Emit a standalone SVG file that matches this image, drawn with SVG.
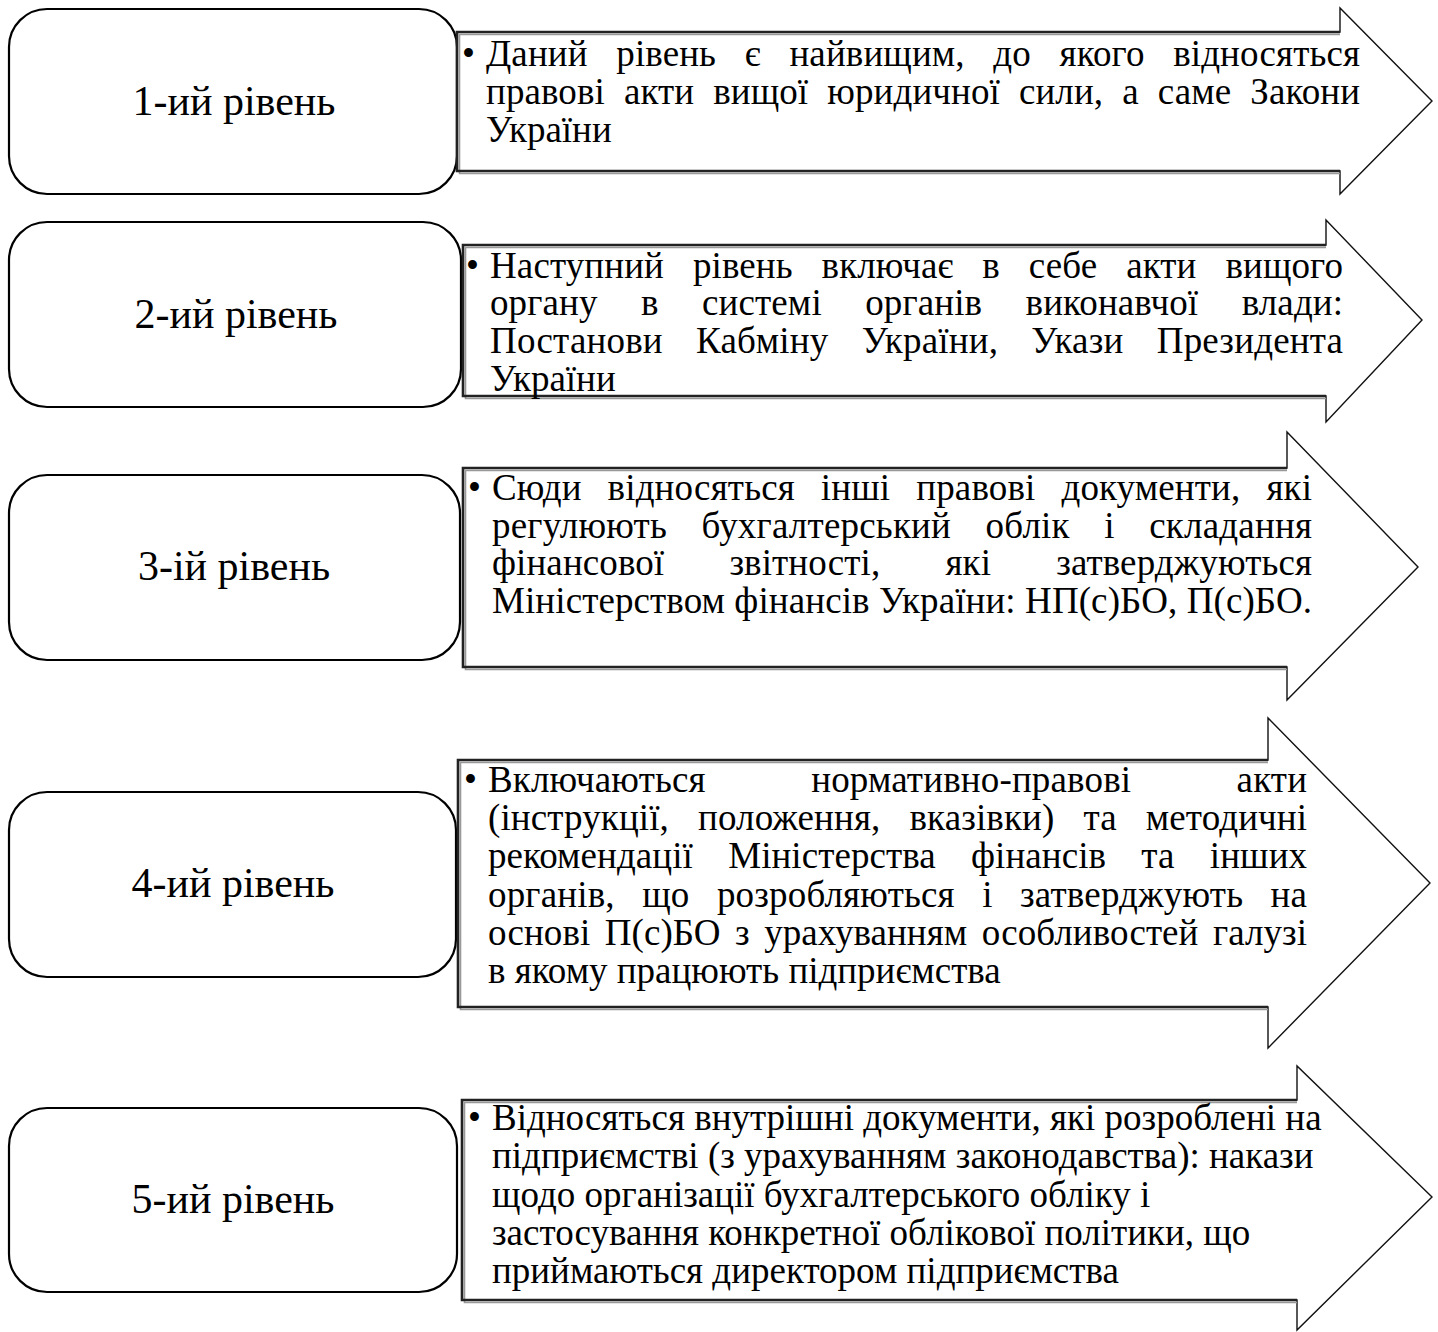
<svg xmlns="http://www.w3.org/2000/svg" width="1438" height="1332" viewBox="0 0 1438 1332">
<style>
.box{fill:#fff;stroke:#000;stroke-width:2.2}
.arr{fill:#fff;stroke:#111;stroke-width:1.4;stroke-linejoin:miter}
.sh{fill:none;stroke:#222;stroke-width:2.6}
.shd{fill:none;stroke:#999;stroke-width:1.6}
.lvl{font-family:"Liberation Serif","Times New Roman",serif;font-size:42px;fill:#000;text-anchor:middle}
.t{font-family:"Liberation Serif","Times New Roman",serif;font-size:37px;fill:#000}
</style>
<rect width="1438" height="1332" fill="#fff"/>
<g id="connectors"/>

<g id="level1">
<rect class="box" x="9" y="9" width="448" height="185" rx="38"/>
<text class="lvl" x="234" y="115">1-ий рівень</text>
</g>
<g id="desc1">
<polygon class="arr" points="457,32 1340,32 1340,8 1432,101 1340,194 1340,171 457,171"/>
<polyline class="shd" points="1340,34.5 459.5,34.5 459.5,173.5 1340,173.5"/>
<polyline class="sh" points="1340,32 457,32 457,171 1340,171"/>
<text class="t" x="462" y="66">•</text>
<text class="t" x="486" y="66" word-spacing="19.3" textLength="874" lengthAdjust="spacing">Даний рівень є найвищим, до якого відносяться</text>
<text class="t" x="486" y="104" word-spacing="9.7" textLength="874" lengthAdjust="spacing">правові акти вищої юридичної сили, а саме Закони</text>
<text class="t" x="486" y="142">України</text>
</g>

<g id="level2">
<rect class="box" x="9" y="222" width="452" height="185" rx="38"/>
<text class="lvl" x="236" y="328">2-ий рівень</text>
</g>
<g id="desc2">
<polygon class="arr" points="463,245 1326,245 1326,220 1422,320 1326,422 1326,396 463,396"/>
<polyline class="shd" points="1326,247.5 465.5,247.5 465.5,398.5 1326,398.5"/>
<polyline class="sh" points="1326,245 463,245 463,396 1326,396"/>
<text class="t" x="466" y="278">•</text>
<text class="t" x="490" y="278" word-spacing="19.5" textLength="853" lengthAdjust="spacing">Наступний рівень включає в себе акти вищого</text>
<text class="t" x="490" y="315" word-spacing="34.1" textLength="853" lengthAdjust="spacing">органу в системі органів виконавчої влади:</text>
<text class="t" x="490" y="353" word-spacing="23.8" textLength="853" lengthAdjust="spacing">Постанови Кабміну України, Укази Президента</text>
<text class="t" x="490" y="391">України</text>
</g>

<g id="level3">
<rect class="box" x="9" y="475" width="451" height="185" rx="38"/>
<text class="lvl" x="234" y="580">3-ій рівень</text>
</g>
<g id="desc3">
<polygon class="arr" points="463,468 1287,468 1287,432 1418,567 1287,700 1287,667 463,667"/>
<polyline class="shd" points="1287,470.5 465.5,470.5 465.5,669.5 1287,669.5"/>
<polyline class="sh" points="1287,468 463,468 463,667 1287,667"/>
<text class="t" x="468" y="500">•</text>
<text class="t" x="492" y="500" word-spacing="16.6" textLength="820" lengthAdjust="spacing">Сюди відносяться інші правові документи, які</text>
<text class="t" x="492" y="538" word-spacing="25.1" textLength="820" lengthAdjust="spacing">регулюють бухгалтерський облік і складання</text>
<text class="t" x="492" y="575" word-spacing="55.8" textLength="820" lengthAdjust="spacing">фінансової звітності, які затверджуються</text>
<text class="t" x="492" y="613" textLength="820" lengthAdjust="spacing">Міністерством фінансів України: НП(с)БО, П(с)БО.</text>
</g>

<g id="level4">
<rect class="box" x="9" y="792" width="447" height="185" rx="38"/>
<text class="lvl" x="233" y="897">4-ий рівень</text>
</g>
<g id="desc4">
<polygon class="arr" points="458,760 1268,760 1268,718 1430,883 1268,1048 1268,1007 458,1007"/>
<polyline class="shd" points="1268,762.5 460.5,762.5 460.5,1009.5 1268,1009.5"/>
<polyline class="sh" points="1268,760 458,760 458,1007 1268,1007"/>
<text class="t" x="464" y="792">•</text>
<text class="t" x="488" y="792" word-spacing="96" textLength="819" lengthAdjust="spacing">Включаються нормативно-правові акти</text>
<text class="t" x="488" y="830" word-spacing="19.7" textLength="819" lengthAdjust="spacing">(інструкції, положення, вказівки) та методичні</text>
<text class="t" x="488" y="868" word-spacing="26" textLength="819" lengthAdjust="spacing">рекомендації Міністерства фінансів та інших</text>
<text class="t" x="488" y="907" word-spacing="18" textLength="819" lengthAdjust="spacing">органів, що розробляються і затверджують на</text>
<text class="t" x="488" y="945" word-spacing="5.1" textLength="819" lengthAdjust="spacing">основі П(с)БО з урахуванням особливостей галузі</text>
<text class="t" x="488" y="983">в якому працюють підприємства</text>
</g>

<g id="level5">
<rect class="box" x="9" y="1108" width="448" height="184" rx="38"/>
<text class="lvl" x="233" y="1213">5-ий рівень</text>
</g>
<g id="desc5">
<polygon class="arr" points="462,1100 1297,1100 1297,1066 1432,1197 1297,1330 1297,1300 462,1300"/>
<polyline class="shd" points="1297,1102.5 464.5,1102.5 464.5,1302.5 1297,1302.5"/>
<polyline class="sh" points="1297,1100 462,1100 462,1300 1297,1300"/>
<text class="t" x="468" y="1130">•</text>
<text class="t" x="492" y="1130">Відносяться внутрішні документи, які розроблені на</text>
<text class="t" x="492" y="1168">підприємстві (з урахуванням законодавства): накази</text>
<text class="t" x="492" y="1207">щодо організації бухгалтерського обліку і</text>
<text class="t" x="492" y="1245">застосування конкретної облікової політики, що</text>
<text class="t" x="492" y="1283">приймаються директором підприємства</text>
</g>
</svg>
